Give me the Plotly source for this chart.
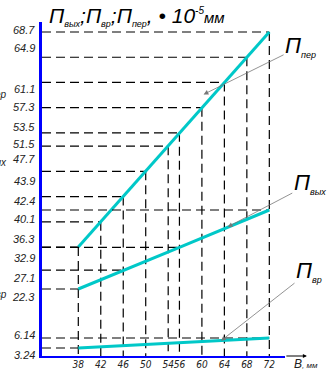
import plotly.graph_objects as go

# ---------------- data ----------------
B_MM = [38, 42, 46, 50, 54, 56, 60, 64, 68, 72]                          # B, mm (x ticks)
P_PER = [36.3, 40.1, 43.9, 47.7, 51.5, 53.5, 57.3, 61.1, 64.9, 68.7]    # П_пер
P_VYH_B = [38, 46, 56, 72]
P_VYH = [22.3, 27.1, 32.9, 42.4]                                           # П_вых
P_VR_B = [38, 72]
P_VR = [3.24, 6.14]                                                        # П_вр

# ---------------- style ----------------
FONT = "Liberation Sans, Arial, sans-serif"
NARROW = "Liberation Sans Narrow, Arial Narrow, DejaVu Sans Condensed, Liberation Sans, sans-serif"
CYAN = "#00C8C8"
BLUE = "#0000FF"
X_RANGE = [31.54, 74.79]
Y_RANGE = {"y": [19.87, 70.21], "y2": [5.25, 90.23], "y3": [0.92, 97.79]}
LABEL_SHIFT = {"y": [8, 3, 16, 12, 2, 6, 1, -7, 9, 2], "y2": [-8, -8, -11, 9], "y3": [-7, 3]}


def sub(t, size=9):
    return f"<sub><span style='font-size:{size}px'>{t}</span></sub>"


series = [("y", B_MM, P_PER), ("y2", P_VYH_B, P_VYH), ("y3", P_VR_B, P_VR)]

fig = go.Figure()
XMIN = X_RANGE[0]

# dashed guide lines
for ax, xs, ys in series:
    gx, gy = [], []
    for xi, v in zip(xs, ys):
        gx += [XMIN, xi, None]
        gy += [v, v, None]
        if ax == "y":
            gx += [xi, xi, None]
            gy += [v, Y_RANGE["y"][0], None]
    fig.add_trace(go.Scatter(x=gx, y=gy, yaxis=ax, mode="lines", hoverinfo="skip",
                             line=dict(color="black", width=1.2, dash="9px,5px"),
                             showlegend=False, connectgaps=False))

# the three curves
for ax, xs, ys in series:
    fig.add_trace(go.Scatter(x=xs, y=ys, yaxis=ax, mode="lines",
                             line=dict(color=CYAN, width=3), showlegend=False))

ann = []
# y tick labels (one column, each at its own series' value)
for ax, xs, ys in series:
    for v, sh in zip(ys, LABEL_SHIFT[ax]):
        ann.append(dict(xref="paper", x=0, xanchor="right", xshift=-5,
                        yref=ax, y=v, yanchor="middle", yshift=sh,
                        text=f"{v:g}", showarrow=False,
                        font=dict(family=FONT, size=11, color="#222", style="italic")))

# title
ann.append(dict(xref="paper", yref="paper", x=0.02, y=1.015, xanchor="left", yanchor="middle",
                showarrow=False,
                text=("П" + sub("вых", 9) + ";П" + sub("вр", 9) + ";П" + sub("пер", 9)
                      + ", • 10<sup><span style='font-size:10px'>-5</span></sup>"
                      + "<span style='font-size:15px'>мм</span>"),
                font=dict(family=FONT, size=21, color="black", style="italic")))

# callouts
for txt, ax, xt, yt, dx, dy in [
    ("П" + sub("пер", 9), "y", 60.3, 59.3, 97, -48),
    ("П" + sub("вых", 9), "y2", 64.6, 38.1, 82, -43),
    ("П" + sub("вр", 9), "y3", 63.4, 5.34, 88, -69),
]:
    ann.append(dict(xref="x", yref=ax, x=xt, y=yt, ax=dx, ay=dy, text=txt,
                    showarrow=True, arrowhead=2, arrowsize=1.2, arrowwidth=0.8,
                    arrowcolor="#777", standoff=0,
                    font=dict(family=FONT, size=22, color="black", style="italic")))

# labels cropped by the left edge
for txt, yp in [("П" + sub("пер", 10), 0.802), ("П" + sub("вых", 10), 0.599), ("П" + sub("вр", 10), 0.204)]:
    ann.append(dict(xref="paper", yref="paper", x=-0.135, y=yp, xanchor="right", yanchor="middle",
                    text=txt, showarrow=False,
                    font=dict(family=FONT, size=20, color="#222", style="italic")))

# x axis title and arrow
ann.append(dict(xref="paper", yref="paper", x=1.03, y=-0.025, xanchor="left", yanchor="middle",
                text="B<span style='font-size:8px'>, мм</span>", showarrow=False,
                font=dict(family=FONT, size=12, color="#222", style="italic")))
ann.append(dict(xref="paper", yref="paper", x=1.09, y=0, ax=-22, ay=0, text="",
                showarrow=True, arrowhead=2, arrowsize=0.8, arrowwidth=1, arrowcolor="black"))

fig.update_layout(
    template="none",
    width=330, height=372,
    margin=dict(l=42, r=45, t=22, b=16, autoexpand=False),
    paper_bgcolor="white", plot_bgcolor="white",
    annotations=ann,
    xaxis=dict(range=X_RANGE, tickvals=B_MM, ticktext=[str(b) for b in B_MM], automargin=False,
               tickangle=0, ticklen=0, ticklabelstandoff=-2,
               showgrid=False, zeroline=False, showline=True, linecolor=BLUE, linewidth=2,
               ticks="", tickfont=dict(family=NARROW, size=10, color="#222", style="italic")),
    yaxis=dict(range=Y_RANGE["y"], showgrid=False, zeroline=False, showline=True, automargin=False,
               linecolor=BLUE, linewidth=2.5, showticklabels=False, ticks=""),
    yaxis2=dict(range=Y_RANGE["y2"], overlaying="y", showgrid=False, zeroline=False, automargin=False,
                showline=False, showticklabels=False, ticks=""),
    yaxis3=dict(range=Y_RANGE["y3"], overlaying="y", showgrid=False, zeroline=False, automargin=False,
                showline=False, showticklabels=False, ticks=""),
    showlegend=False,
)

fig.write_html("out.html", config={"displayModeBar": False},
               post_script="document.body.style.margin='0';document.body.style.overflow='hidden';")
